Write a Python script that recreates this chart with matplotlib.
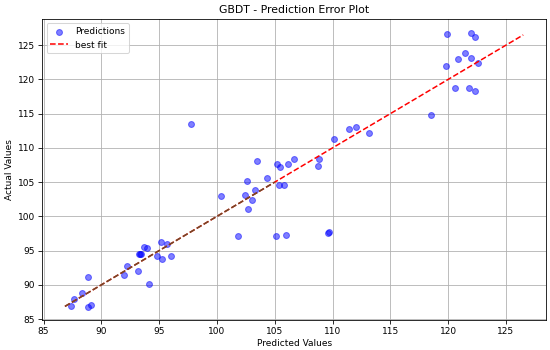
import matplotlib
matplotlib.use("Agg")
import matplotlib.pyplot as plt

# predicted vs actual values
predicted = [87.35, 87.61, 88.30, 88.82, 88.88, 89.14, 91.92, 92.21, 93.13,
             93.30, 93.36, 93.42, 93.73, 93.94, 94.10, 94.82, 95.23, 95.20,
             95.66, 96.00, 97.73, 100.32, 101.81, 102.56, 102.39, 103.02,
             102.73, 103.33, 103.45, 104.34, 105.15, 105.23, 105.46, 105.34,
             105.84, 105.97, 106.18, 106.67, 108.71, 108.85, 109.62, 109.66,
             110.17, 111.41, 112.04, 113.15, 118.56, 119.94, 121.98, 122.30,
             119.80, 120.89, 121.47, 121.98, 122.56, 120.60, 121.78, 122.30]
actual = [86.97, 87.95, 88.83, 91.21, 86.83, 87.12, 91.46, 92.82, 92.05,
          94.50, 94.55, 94.48, 95.50, 95.41, 90.15, 94.18, 93.80, 96.23,
          95.99, 94.14, 113.54, 102.95, 97.10, 105.15, 103.10, 102.42,
          101.11, 103.79, 108.03, 105.64, 97.10, 107.69, 107.19, 104.62,
          104.52, 97.35, 107.69, 108.42, 107.30, 108.42, 97.62, 97.68,
          111.29, 112.70, 113.00, 112.14, 114.75, 126.59, 126.84, 126.20,
          121.92, 123.04, 123.86, 123.13, 122.45, 118.70, 118.80, 118.30]

fit_x = [86.85, 126.5]
seg_x = [86.85, 105.0]

plt.rcParams['font.size'] = 8.9
plt.rcParams['axes.titlesize'] = 10.7

fig = plt.figure(figsize=(550 / 73, 350 / 73), dpi=73)
plt.subplots_adjust(left=0.0764, right=0.993, bottom=0.085, top=0.946)

plt.scatter(predicted, actual, color='blue', alpha=0.5, s=34, label='Predictions', zorder=3)
plt.plot(fit_x, fit_x, 'r--', label='best fit', zorder=4)
plt.plot(seg_x, seg_x, '--', color='#704a28', zorder=5)

plt.title('GBDT - Prediction Error Plot')
plt.xlabel('Predicted Values', labelpad=3)
plt.ylabel('Actual Values')
plt.legend(loc='upper left')
plt.grid(True)

plt.savefig('out.png', dpi=73)
